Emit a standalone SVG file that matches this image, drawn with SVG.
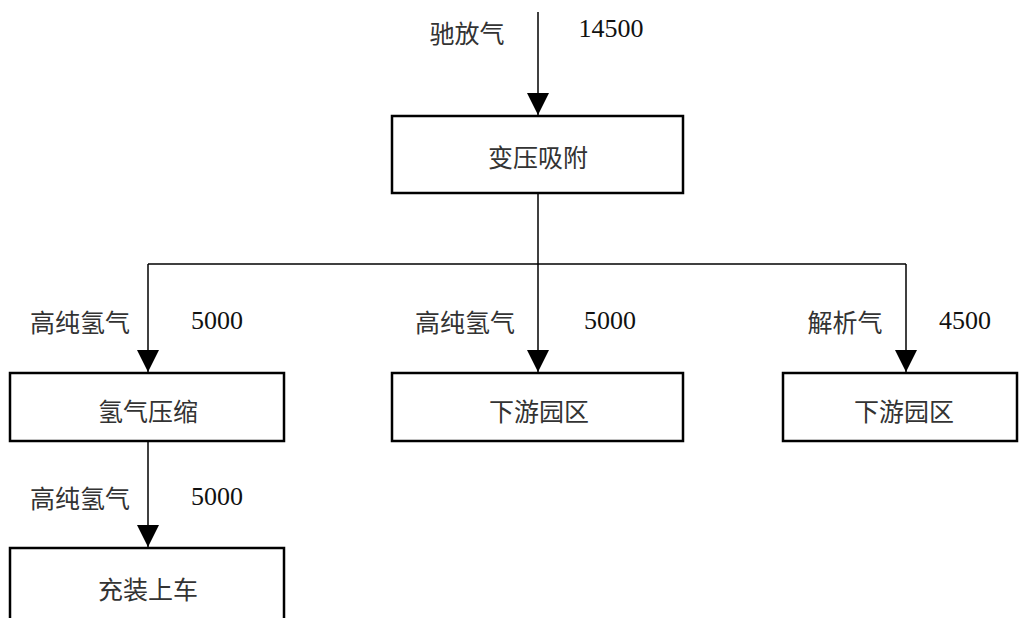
<svg xmlns="http://www.w3.org/2000/svg" width="1020" height="618" viewBox="0 0 1020 618">
<defs>
<marker id="ah" markerUnits="userSpaceOnUse" markerWidth="24" markerHeight="22" viewBox="0 0 24 22" refX="22" refY="11" orient="auto">
<path d="M0,0 L22,11 L0,22 Z" fill="#000"/>
</marker>
<style>
.box{fill:#fff;stroke:#000;stroke-width:2.5}
.ln{fill:none;stroke:#000;stroke-width:1.5}
.cjk{font-family:"Noto Sans CJK SC","Liberation Serif",sans-serif;font-size:25px;fill:#333;text-anchor:middle;dominant-baseline:central}
.num{font-family:"Liberation Serif",serif;font-size:26px;fill:#111;text-anchor:middle}
</style>
</defs>
<rect width="1020" height="618" fill="#fff"/>
<g id="connectors">
<path class="ln" d="M538,12 V115" marker-end="url(#ah)"/>
<path class="ln" d="M538,193 V372" marker-end="url(#ah)"/>
<path class="ln" d="M148,264 H906"/>
<path class="ln" d="M148,264 V372" marker-end="url(#ah)"/>
<path class="ln" d="M906,264 V372" marker-end="url(#ah)"/>
<path class="ln" d="M148,441 V547" marker-end="url(#ah)"/>
</g>
<g id="labels">
<text class="cjk" x="467" y="32">驰放气</text>
<text class="num" x="611" y="37">14500</text>
<text class="cjk" x="80" y="321">高纯氢气</text>
<text class="num" x="217" y="329">5000</text>
<text class="cjk" x="465" y="321">高纯氢气</text>
<text class="num" x="610" y="329">5000</text>
<text class="cjk" x="845" y="321">解析气</text>
<text class="num" x="965" y="329">4500</text>
<text class="cjk" x="80" y="497">高纯氢气</text>
<text class="num" x="217" y="505">5000</text>
</g>
<g id="psa">
<rect class="box" x="392" y="116" width="291" height="77"/>
<text class="cjk" x="538" y="156">变压吸附</text>
</g>
<g id="compress">
<rect class="box" x="10" y="373" width="274" height="68"/>
<text class="cjk" x="148" y="410">氢气压缩</text>
</g>
<g id="park1">
<rect class="box" x="392" y="373" width="291" height="68"/>
<text class="cjk" x="539" y="410">下游园区</text>
</g>
<g id="park2">
<rect class="box" x="783" y="373" width="234" height="68"/>
<text class="cjk" x="904" y="410">下游园区</text>
</g>
<g id="fill">
<rect class="box" x="10" y="548" width="274" height="90"/>
<text class="cjk" x="148" y="588">充装上车</text>
</g>
</svg>
